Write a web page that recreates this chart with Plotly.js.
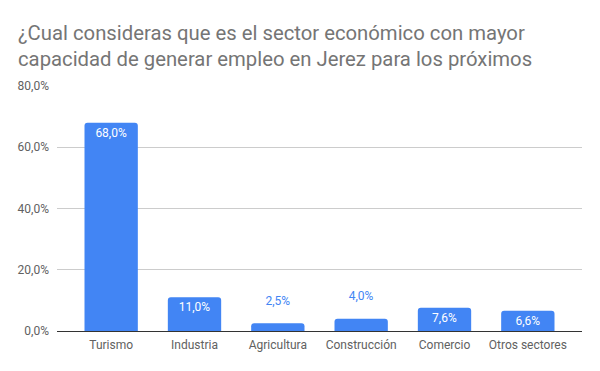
<!DOCTYPE html>
<html><head><meta charset="utf-8">
<script src="https://cdn.plot.ly/plotly-3.0.1.min.js"></script>
<style>html,body{margin:0;padding:0;background:#fff}#c{width:600px;height:371px}</style>
</head><body><div id="c"></div>
<script>
const categories = ["Turismo","Industria","Agricultura","Construcción","Comercio","Otros sectores"];
const values = [68.0, 11.0, 2.5, 4.0, 7.6, 6.6];
const yTicks = [0, 20, 40, 60, 80];
const yTickText = ["0,0%", "20,0%", "40,0%", "60,0%", "80,0%"];

const textPos = values.map(v => v >= 6 ? 'inside' : 'outside');
const textCol = values.map(v => v >= 6 ? '#ffffff' : '#4285F4');
const textTpl = values.map(v => v >= 6 ? '%{y:.1f}%' : '%{y:.1f}%<br><span style="font-size:1px"> </span>');

Plotly.newPlot('c', [{
  type: 'bar', x: categories, y: values,
  marker: {color: '#4285F4', cornerradius: 3},
  texttemplate: textTpl, textposition: textPos,
  insidetextanchor: 'end', constraintext: 'none', cliponaxis: false,
  textfont: {family: 'Roboto', size: 12, color: textCol},
  hoverinfo: 'none'
}], {
  width: 600, height: 371,
  margin: {l: 57, r: 18, t: 86, b: 40},
  separators: ',.',
  bargap: 0.36,
  paper_bgcolor: '#fff', plot_bgcolor: '#fff',
  font: {family: 'Roboto', color: '#616161', size: 12},
  title: {text: '¿Cual consideras que es el sector económico con mayor<br>capacidad de generar empleo en Jerez para los próximos',
    font: {family: 'Roboto', size: 20.3, color: '#757575'},
    x: 18/600, xanchor: 'left', xref: 'container', y: 1 - 40/371, yanchor: 'top', yref: 'container'},
  xaxis: {range: [-0.65, 5.65], showgrid: false, showline: false, ticks: '', ticklabelstandoff: 5,
    tickfont: {family: 'Roboto', size: 12, color: '#616161'}, fixedrange: true},
  yaxis: {range: [0, 80], tickvals: yTicks, ticktext: yTickText,
    gridcolor: '#cccccc', zeroline: true, zerolinecolor: '#333333', zerolinewidth: 1,
    showline: false, ticks: '', ticklabelstandoff: 7,
    tickfont: {family: 'Roboto', size: 12, color: '#616161'}}
}, {staticPlot: true});
</script></body></html>
